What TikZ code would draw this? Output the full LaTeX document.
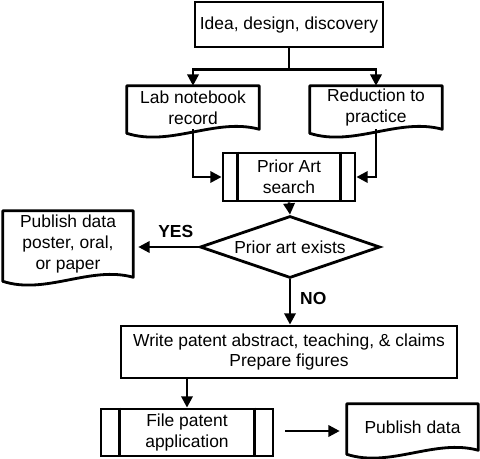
\documentclass[tikz,border=0pt]{standalone}
\usepackage{fontspec}
\setmainfont{Liberation Sans}
\usetikzlibrary{calc,arrows.meta,shapes.geometric}

% 文档形状: 波浪形底边
\newcommand{\docshape}[1]{%
  \draw[line width=2pt, line join=round] (#1.north west) -- (#1.north east) -- (#1.south east)
    .. controls ($(#1.south west)!.67!(#1.south east)+(0,-12)$)
    and ($(#1.south west)!.33!(#1.south east)+(0,18)$) .. ($(#1.south west)+(0,4)$) -- cycle;}
% 预定义过程: 两侧竖线
\newcommand{\procbars}[2]{%
  \draw[line width=2pt] ($(#1.north west)+(#2,0)$) -- ($(#1.south west)+(#2,0)$)
    ($(#1.north east)-(#2,0)$) -- ($(#1.south east)-(#2,0)$);}

\tikzset{
  txt/.style={font=\fontsize{12.4}{14.9}\selectfont, align=center, inner sep=0pt},
  box/.style={txt, draw, line width=2pt},
  doc/.style={txt},
  arr/.style={line width=1.8pt, -{Triangle[length=8pt,width=8pt]}},
  lbl/.style={font=\fontsize{12.4}{14.9}\selectfont\bfseries},
}

\begin{document}
\begin{tikzpicture}[x=0.025cm, y=-0.025cm]
    \useasboundingbox (0,0) rectangle (480,459);
    % 起点
    \node[box, minimum width=4.7cm, minimum height=1.125cm] (idea) at (289,24.5) {Idea, design, discovery};
    % 两个文档
    \node[doc, minimum width=3.3cm, minimum height=1.075cm] (lab) at (193,107.5) {Lab notebook\\record};
    \node[doc, minimum width=3.3cm, minimum height=1.075cm] (red) at (376,107.5) {Reduction to\\practice};
    \docshape{lab}
    \docshape{red}
    % 检索
    \node[box, minimum width=3.3cm, minimum height=1.2cm] (prior) at (289,177) {Prior Art\\search};
    \procbars{prior}{16}
    % 判断
    \node[txt, diamond, draw, line width=2pt, aspect=2.9, minimum width=4.5cm, minimum height=1.55cm] (exists) at (290,247) {Prior art exists};
    \node[doc, minimum width=3.25cm, minimum height=1.65cm] (poster) at (68,244) {Publish data\\poster, oral,\\or paper};
    \docshape{poster}
    % 撰写与申请
    \node[box, minimum width=8.4cm, minimum height=1.3cm] (write) at (289,352) {Write patent abstract, teaching, \& claims\\Prepare figures};
    \node[box, minimum width=4.3cm, minimum height=1.175cm] (file) at (187,432.5) {File patent\\application};
    \procbars{file}{20}
    \node[doc, minimum width=3.275cm, minimum height=1.15cm] (pub) at (412.5,427) {Publish data};
    \docshape{pub}

    % 连线
    \draw[line width=1.8pt] (idea.south) -- ++(0,21) coordinate (split);
    \draw[arr] (split) -| (lab.north);
    \draw[arr] (split) -| (red.north);
    \draw[arr] (lab.south) |- (prior.west);
    \draw[arr] (red.south) |- (prior.east);
    \draw[arr] (prior.south) -- (exists.north);
    \draw[arr, shorten >=0.125cm] (exists.west) -- (exists.west -| poster.east)
        node[lbl, pos=.35, above=2.5pt] {YES};
    \draw[arr] (exists.south) -- (exists.south |- write.north)
        node[lbl, pos=.42, right=3pt] {NO};
    \draw[arr] (write.south -| file.north) -- (file.north);
    \draw[arr, shorten <=0.275cm, shorten >=0.175cm] ($(file.east)+(0,-1.5)$) -- ($(file.east -| pub.west)+(0,-1.5)$);
\end{tikzpicture}
\end{document}
